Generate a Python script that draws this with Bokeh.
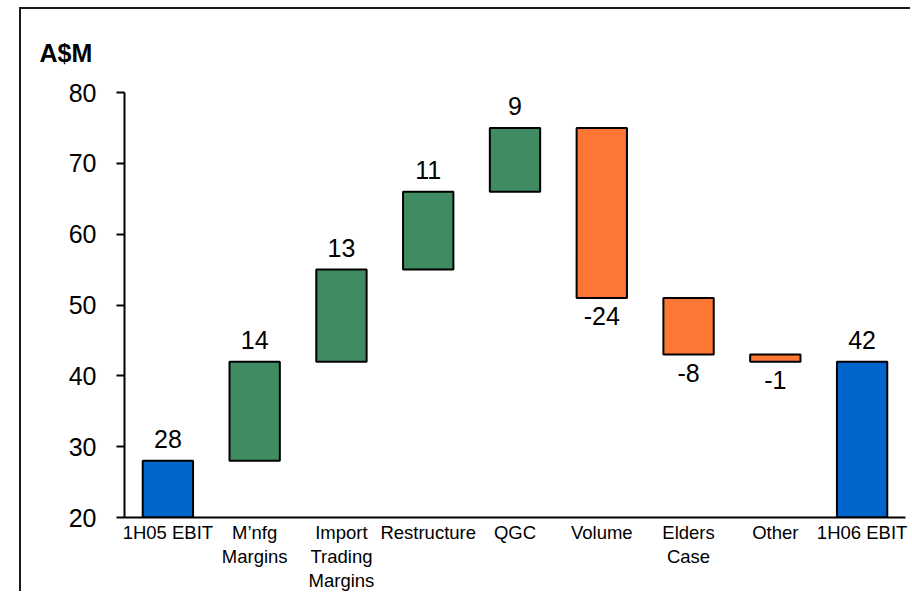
from bokeh.plotting import figure
from bokeh.models import ColumnDataSource, FactorRange, FixedTicker, CategoricalAxis
from bokeh.core.properties import value
from bokeh.embed import file_html
from bokeh.resources import INLINE

# ---- data ----
categories = ["1H05 EBIT", "M’nfg Margins", "Import Trading Margins", "Restructure",
              "QGC", "Volume", "Elders Case", "Other", "1H06 EBIT"]
label_line1 = ["1H05 EBIT", "M’nfg", "Import", "Restructure", "QGC", "Volume", "Elders", "Other", "1H06 EBIT"]
label_line2 = ["", "Margins", "Trading", "", "", "", "Case", "", ""]
label_line3 = ["", "", "Margins", "", "", "", "", "", ""]
values = [28, 14, 13, 11, 9, -24, -8, -1, 42]
kinds = ["total", "up", "up", "up", "up", "down", "down", "down", "total"]
y_ticks = [20, 30, 40, 50, 60, 70, 80]
unit_label = "A$M"

colors_by_kind = {"total": "#0066CC", "up": "#3F8B62", "down": "#FC7634"}

# ---- waterfall geometry derived from data ----
bottoms, tops, label_y, label_base, label_off = [], [], [], [], []
running = 0
for v, k in zip(values, kinds):
    if k == "total":
        b, t = 0, v
        running = v
    else:
        b, t = (running, running + v) if v >= 0 else (running + v, running)
        running += v
    bottoms.append(b)
    tops.append(t)
    if v >= 0:
        label_y.append(t)
        label_base.append("bottom")
        label_off.append(-13)
    else:
        label_y.append(b)
        label_base.append("top")
        label_off.append(9)

src = ColumnDataSource(dict(
    cat=categories, bottom=bottoms, top=tops,
    color=[colors_by_kind[k] for k in kinds],
    label=[str(v) for v in values], ly=label_y, lbase=label_base, loff=label_off,
))


def unique_blanks(lines):
    # blank factors must be unique within a FactorRange: use differing runs of spaces
    out, n = [], 0
    for s in lines:
        if s == "":
            n += 1
            out.append(" " * n)
        else:
            out.append(s)
    return out


line_ranges = {
    "l1": FactorRange(*unique_blanks(label_line1)),
    "l2": FactorRange(*unique_blanks(label_line2)),
    "l3": FactorRange(*unique_blanks(label_line3)),
}

p = figure(
    x_range=FactorRange(*categories), y_range=(20, 80),
    width=891, height=584, output_backend="svg", toolbar_location=None,
    x_axis_location=None,
    min_border_left=103, min_border_right=7, min_border_top=83, min_border_bottom=76,
    margin=(7, 0, 0, 19),
)
p.extra_x_ranges = line_ranges
p.styles = {"border-top": "2px solid #1a1a1a", "border-left": "2px solid #1a1a1a"}
p.outline_line_color = None
p.xgrid.grid_line_color = None
p.ygrid.grid_line_color = None
p.background_fill_color = "white"
p.border_fill_color = "white"

# unit label as left-aligned title
p.title.text = unit_label
p.title.align = "left"
p.title.offset = -85
p.title.standoff = 52
p.title.text_font = "Liberation Sans"
p.title.text_font_size = "25px"
p.title.text_font_style = "bold"
p.title.text_color = "black"

p.vbar(x="cat", bottom="bottom", top="top", width=0.58, source=src,
       fill_color="color", line_color="black", line_width=2)

p.text(x="cat", y="ly", text="label", source=src, text_align="center",
       text_baseline="lbase", y_offset="loff", text_font=value("Liberation Sans"),
       text_font_size="25px", text_color="black")

# y axis
p.yaxis.ticker = FixedTicker(ticks=y_ticks)
p.yaxis.minor_tick_line_color = None
p.yaxis.major_tick_out = 8
p.yaxis.major_tick_in = 0
p.yaxis.major_tick_line_width = 2
p.yaxis.axis_line_width = 2
p.yaxis.axis_line_color = "black"
p.yaxis.major_tick_line_color = "black"
p.yaxis.major_label_text_font = "Liberation Sans"
p.yaxis.major_label_text_font_size = "25px"
p.yaxis.major_label_text_color = "black"
p.yaxis.major_label_standoff = 20

# x axis: one axis per text line of the category labels
standoffs = {"l1": 4, "l2": 0, "l3": 0}
for name in ["l1", "l2", "l3"]:
    ax = CategoricalAxis(x_range_name=name)
    ax.major_tick_line_color = None
    ax.minor_tick_line_color = None
    ax.major_tick_out = 0
    ax.major_tick_in = 0
    ax.axis_line_width = 2
    ax.axis_line_color = "black" if name == "l1" else None
    ax.major_label_text_font = "Liberation Sans"
    ax.major_label_text_font_size = "18.5px"
    ax.major_label_text_color = "black"
    ax.major_label_standoff = standoffs[name]
    p.add_layout(ax, "below")

open("out.html", "w").write(file_html(p, INLINE))
